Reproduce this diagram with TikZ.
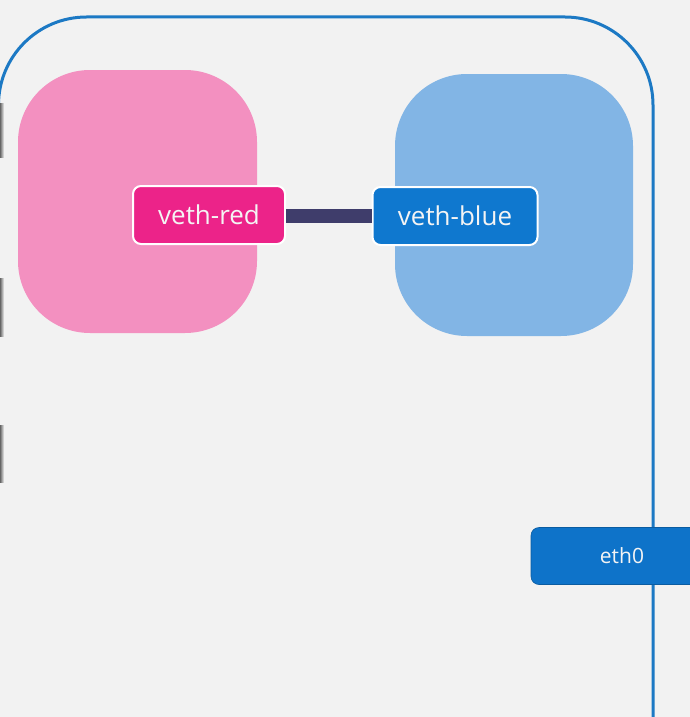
\documentclass[tikz,border=0pt]{standalone}
\usepackage{fontspec}
\setmainfont{Open Sans}
\definecolor{bg}{HTML}{F2F2F2}
\definecolor{frameblue}{HTML}{1C79C4}
\definecolor{pinkpod}{HTML}{F390C0}
\definecolor{bluepod}{HTML}{82B5E5}
\definecolor{vethred}{HTML}{EC2389}
\definecolor{vethblue}{HTML}{0F78CF}
\definecolor{ethblue}{HTML}{0E73C9}
\definecolor{wire}{HTML}{3F3D6B}
\definecolor{txt}{HTML}{F4F4F4}
\begin{document}
\begin{tikzpicture}[x=1pt,y=-1pt,
  pod/.style={rounded corners=72pt},
  iface/.style={draw=white, line width=2pt, rounded corners=8pt, text=txt, inner sep=0pt, font=\fontsize{26}{30}\selectfont},
  ethbox/.style={rounded corners=8pt, text=txt, inner sep=0pt, font=\fontsize{21}{25}\selectfont, fill=ethblue, draw=ethblue!80!black, line width=0.6pt},
  wirestyle/.style={draw=wire, line width=14pt},
  edgemark/.style={left color=black!60, right color=bg}
]
\useasboundingbox (0,0) rectangle (690,717);
\clip (0,0) rectangle (690,717);
\fill[bg] (0,0) rectangle (690,717);
% host frame
\draw[frameblue, line width=3pt, rounded corners=88pt] (-1.5,760) -- (-1.5,17) -- (653,17) -- (653,760);
% left edge marks
\fill[edgemark] (0,103) rectangle (4,157);
\fill[edgemark] (0,278) rectangle (4,336);
\fill[edgemark] (0,425) rectangle (4,482);
% namespaces
\fill[pinkpod, pod] (18,70) rectangle (257,333);
\fill[bluepod, pod] (395,74) rectangle (633,336);
% interfaces
\node[iface, fill=vethred, minimum width=152pt, minimum height=58pt] (vred) at (209,215) {veth-red};
\node[iface, fill=vethblue, minimum width=165pt, minimum height=58pt] (vblue) at (455,216) {veth-blue};
\coordinate (wl) at ([yshift=-0.5pt]vred.east);
\coordinate (wr) at ([yshift=0.5pt]vblue.west);
\draw[wirestyle] (wl) -- (wl -| wr);
\node[ethbox, minimum width=182pt, minimum height=57pt] (eth) at (622,556) {eth0};
\end{tikzpicture}
\end{document}
